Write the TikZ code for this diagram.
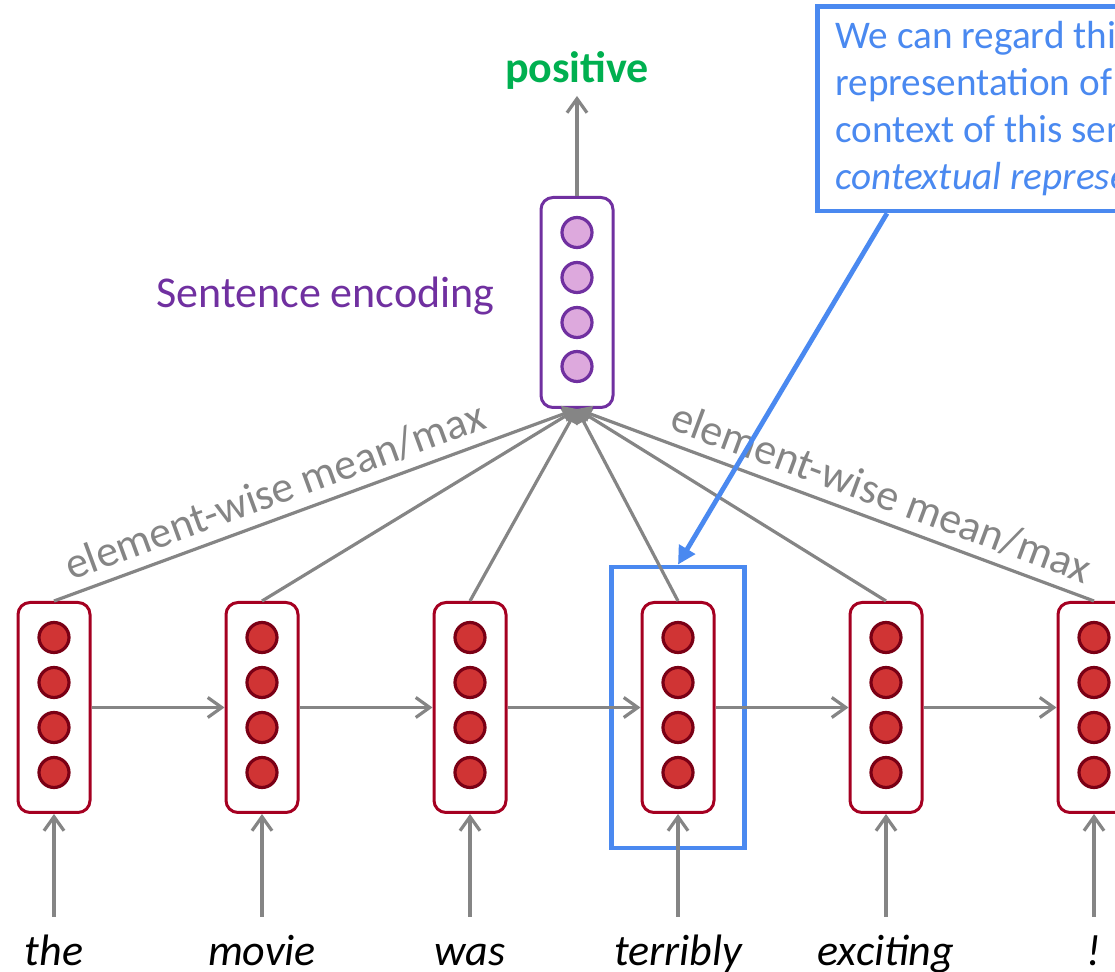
\documentclass[tikz,border=0pt]{standalone}
\usepackage{fontspec}
\setmainfont{Carlito}
\usetikzlibrary{positioning,arrows.meta,calc,fit}

\definecolor{cellred}{HTML}{A50021}
\definecolor{dotred}{HTML}{D03434}
\definecolor{dotdark}{HTML}{7A0015}
\definecolor{encpurple}{HTML}{7030A0}
\definecolor{encfill}{HTML}{DDA9DD}
\definecolor{noteblue}{HTML}{4A89F0}
\definecolor{posgreen}{HTML}{00B050}
\definecolor{arrgray}{HTML}{858585}

\begin{document}
\begin{tikzpicture}[
  x=0.5pt, y=-0.5pt,
  font=\fontsize{22pt}{26pt}\selectfont,
  cell/.style={draw=cellred, line width=1.5pt, rounded corners=6pt, minimum width=36pt, minimum height=105pt},
  enc/.style={cell, draw=encpurple},
  dot/.style={circle, draw=dotdark, fill=dotred, line width=1.6pt, minimum size=15pt, inner sep=0pt},
  encdot/.style={dot, draw=encpurple, fill=encfill},
  word/.style={font=\fontsize{22pt}{26pt}\selectfont\itshape, text height=13pt, text depth=4pt, inner ysep=2pt},
  flow/.style={draw=arrgray, line width=1.6pt, -{Straight Barb[length=7pt,width=10pt]}},
  pool/.style={draw=arrgray, line width=1.6pt, -{Triangle[length=7pt,width=8pt]}},
  lbl/.style={text=arrgray, sloped, above=2pt},
  hl/.style={draw=noteblue, line width=2.4pt, inner xsep=14.5pt, inner ysep=17pt},
  note/.style={draw=noteblue, line width=2.4pt, text=noteblue, align=left, anchor=north west,
    font=\fontsize{19.6pt}{23.5pt}\selectfont, inner xsep=9pt, inner ysep=7.5pt}
]
\clip (0,0) rectangle (1115,972);

% hidden states
\node[cell] (c1) at (54,707.5) {};
\node[cell, right=66.5pt of c1] (c2) {};
\node[cell, right=66.5pt of c2] (c3) {};
\node[cell, right=66.5pt of c3] (c4) {};
\node[cell, right=66.5pt of c4] (c5) {};
\node[cell, right=66.5pt of c5] (c6) {};
\node[enc] (s) at (577,302.5) {};
\foreach \n in {c1,c2,c3,c4,c5,c6}
  \foreach \k/\dy in {1/-70,2/-25,3/20,4/65}
    \node[dot] (\n-\k) at ($(\n)+(0,\dy)$) {};
\foreach \k/\dy in {1/-70,2/-25,3/20,4/64}
  \node[encdot] (s-\k) at ($(s)+(0,\dy)$) {};

% input words
\node[word, below=60.5pt of c1] (w1) {the};
\node[word, below=60.5pt of c2] (w2) {movie};
\node[word, below=60.5pt of c3] (w3) {was};
\node[word, below=60.5pt of c4] (w4) {terribly};
\node[word, below=60.5pt of c5] (w5) {exciting};
\node[word, below=60.5pt of c6] (w6) {!};

\node[hl, fit=(c4)] (box) {};

\foreach \a/\b in {c1/c2,c2/c3,c3/c4,c4/c5,c5/c6}
  \draw[flow] (\a) -- (\b);
\foreach \i in {1,...,6} {
  \draw[flow, shorten <=9pt] (w\i.north) -- (c\i.south);
  \draw[pool] (c\i.north) -- (s.south);
}
\path (c1.north) -- node[lbl, pos=0.44] (m1) {element-wise mean/max} (s.south);
\path (s.south) -- node[lbl, pos=0.57] (m2) {element-wise mean/max} (c6.north);

% sentence encoding and output
\node[text=encpurple, left=19pt of s, yshift=3pt] (senc) {Sentence encoding};
\node[text=posgreen, font=\fontsize{22pt}{26pt}\selectfont\bfseries, above=50pt of s] (pos) {positive};
\draw[flow] (s) -- (pos);

% callout
\node[note] (note) at (815,4) {We can regard this hidden state as a\\
representation of the word ``terribly'' in the\\
context of this sentence. We call this a\\
\textit{contextual representation.}};
\draw[draw=noteblue, line width=2.4pt, -{Triangle[length=9pt,width=9pt]}]
  ($(note.south west)+(72,0)$) -- (box.north);
\end{tikzpicture}
\end{document}
